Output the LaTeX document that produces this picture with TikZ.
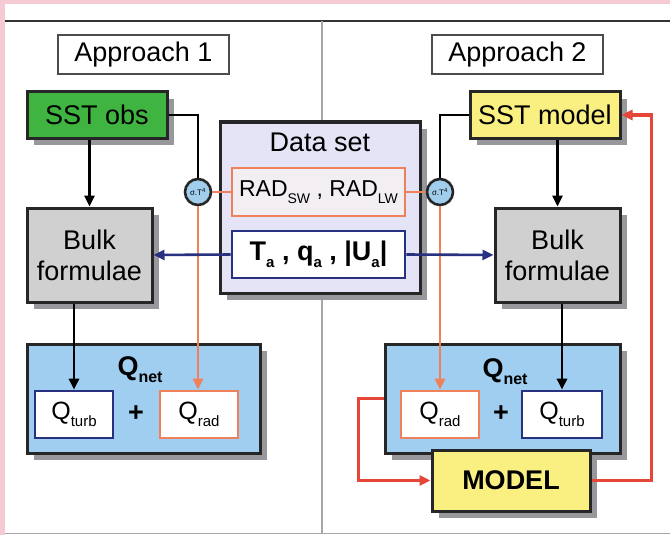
\documentclass[tikz,border=0pt]{standalone}
\usepackage{fontspec}
\setmainfont{Liberation Sans}
\usetikzlibrary{arrows.meta}
\definecolor{pinkbg}{RGB}{246,202,212}
\definecolor{sstgreen}{RGB}{64,180,64}
\definecolor{sstyellow}{RGB}{250,240,130}
\definecolor{bulkgray}{RGB}{208,208,208}
\definecolor{datalav}{RGB}{228,228,246}
\definecolor{radfill}{RGB}{242,238,242}
\definecolor{radorange}{RGB}{238,128,90}
\definecolor{navy}{RGB}{40,48,128}
\definecolor{qblue}{RGB}{160,206,240}
\definecolor{circblue}{RGB}{160,206,236}
\definecolor{loopred}{RGB}{230,70,55}
\definecolor{boxshade}{RGB}{152,152,156}
\newcommand{\lowtxt}[2][14]{\raisebox{-7pt}{\fontsize{#1}{#1}\selectfont #2}}
\begin{document}
\begin{tikzpicture}[x=1pt,y=-1pt,>={Triangle[length=11pt,width=10pt]},
 box/.style={draw=black!85,line width=3pt,align=center,inner sep=0,font=\fontsize{27}{31}\selectfont},
 inbox/.style={box,fill=white,line width=2.6pt,minimum width=78pt,minimum height=47pt,font=\fontsize{25}{25}\selectfont},
 sigma/.style={circle,draw=black!85,line width=2.6pt,fill=circblue,minimum size=26pt,inner sep=0,font=\fontsize{8}{8}\selectfont},
 bigtxt/.style={font=\bfseries\fontsize{27}{27}\selectfont},
 conn/.style={line width=2.6pt}]
\useasboundingbox (0,0) rectangle (670,535);
% frame
\fill[pinkbg] (0,0) rectangle (670,535);
\fill[white] (5,4) rectangle (670,535);
\draw[black!80,line width=1.5pt] (5,21)--(670,21);
\draw[gray!70,line width=1.5pt] (5,533.5)--(670,533.5);
\draw[gray!70,line width=1.2pt] (322,21)--(322,533);
% shadows
\foreach \xa/\ya/\xb/\yb in {27/92/167/138,470/92/620/138,27/208/152/302,495/208/620/302,220/122/420/293,27/344/260/453,385/344/620/453,432/450/590/511}
 \fill[boxshade] (\xa+7,\ya+7) rectangle (\xb+7,\yb+7);
% titles
\node[box,draw=black!70,line width=1.8pt,minimum width=171pt,minimum height=39pt] (ap1) at (143.5,54.5) {Approach 1};
\node[box,draw=black!70,line width=1.8pt,minimum width=171pt,minimum height=39pt] (ap2) at (517.5,54.5) {Approach 2};
% SST and bulk boxes
\node[box,fill=sstgreen,minimum width=140pt,minimum height=46pt] (obs) at (97,115) {SST obs};
\node[box,fill=sstyellow,minimum width=150pt,minimum height=46pt] (mod) at (545,115) {SST model};
\node[box,fill=bulkgray,minimum width=125pt,minimum height=94pt] (bulk1) at (89.5,255) {Bulk\\formulae};
\node[box,fill=bulkgray,minimum width=125pt,minimum height=94pt] (bulk2) at (557.5,255) {Bulk\\formulae};
% data set
\node[box,fill=datalav,minimum width=200pt,minimum height=171pt] (data) at (320,207.5) {};
\node[font=\fontsize{27}{27}\selectfont] (datat) at (320,142) {Data set};
\node[box,draw=radorange,fill=radfill,line width=2.6pt,minimum width=173pt,minimum height=48pt,font=\fontsize{23}{26}\selectfont] (rad) at (318.5,192) {RAD\lowtxt{SW} , RAD\lowtxt{LW}};
\node[box,draw=navy,fill=white,line width=2.6pt,minimum width=173pt,minimum height=47pt,font=\bfseries\fontsize{27}{29}\selectfont] (met) at (318.5,254.5) {T\lowtxt[15]{a} , q\lowtxt[15]{a} , |U\lowtxt[15]{a}|};
\foreach \n/\x in {c1/198,c2/440} \node[sigma] (\n) at (\x,192) {σ.T\textsuperscript{4}};
% Qnet
\node[box,fill=qblue,minimum width=233pt,minimum height=109pt] (qnet1) at (143.5,398.5) {};
\node[bigtxt] (qn1) at (140,370) {Q\lowtxt[16]{net}};
\node[inbox,draw=navy] (qturb1) at (74,414.5) {Q\lowtxt[15]{turb}};
\node[bigtxt] (plus1) at (136,414) {+};
\node[inbox,draw=radorange] (qrad1) at (199,414.5) {Q\lowtxt[15]{rad}};
\node[box,fill=qblue,minimum width=235pt,minimum height=109pt] (qnet2) at (502.5,398.5) {};
\node[bigtxt] (qn2) at (505,372) {Q\lowtxt[16]{net}};
\node[inbox,draw=radorange] (qrad2) at (440,414.5) {Q\lowtxt[15]{rad}};
\node[bigtxt] (plus2) at (501,414) {+};
\node[inbox,draw=navy,minimum width=80pt] (qturb2) at (562,414.5) {Q\lowtxt[15]{turb}};
\node[box,fill=sstyellow,minimum width=158pt,minimum height=61pt,bigtxt] (model) at (511,480.5) {MODEL};
% connectors
\draw[conn,->] (obs.south -| bulk1)--(bulk1.north);
\draw[conn,->] (mod.south -| bulk2)--(bulk2.north);
\draw[conn,->] (bulk1.south -| qturb1)--(qturb1.north);
\draw[conn,->] (bulk2.south -| qturb2)--(qturb2.north);
\draw[conn] (obs.east) -| (c1.north);
\draw[conn] (mod.west) -| (c2.north);
\draw[conn,radorange] (rad.west)--(c1.east) (rad.east)--(c2.west);
\draw[conn,->,radorange] (c1.south)--(c1.south |- qrad1.north);
\draw[conn,->,radorange] (c2.south)--(c2.south |- qrad2.north);
\draw[conn,->,navy] (met.west)--(bulk1.east);
\draw[conn,->,navy] (met.east)--(bulk2.west);
\draw[->,loopred,line width=3.5pt] (qnet2.west)--++(-25,0) |- (model.west);
\draw[->,loopred,line width=3.5pt] (model.east)--++(60,0) |- (mod.east);
\end{tikzpicture}
\end{document}
